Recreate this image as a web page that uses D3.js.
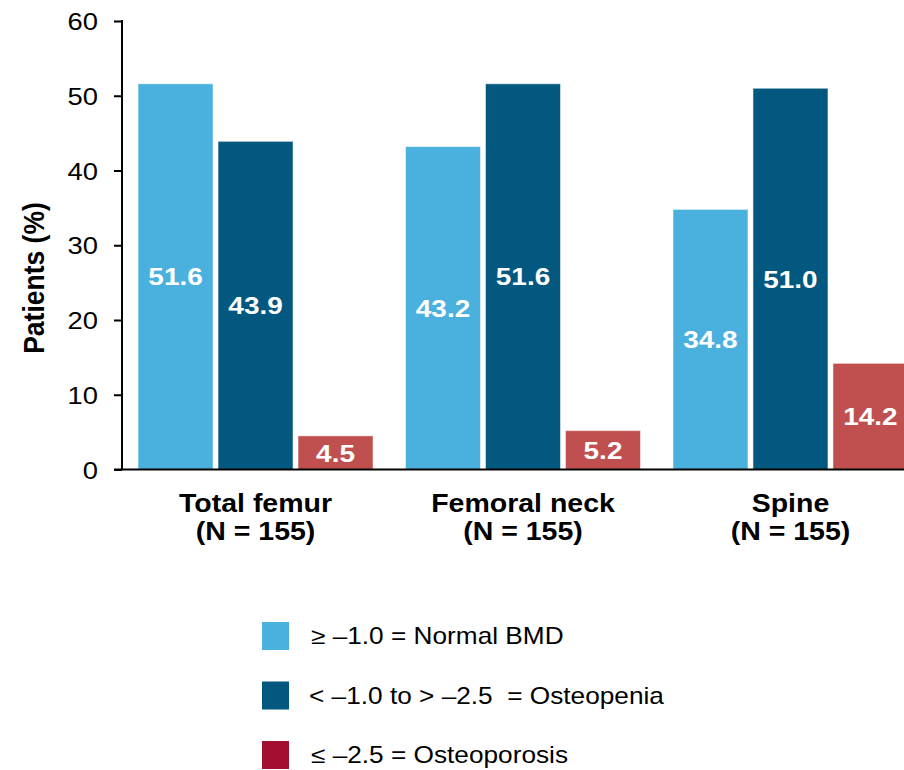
<!DOCTYPE html>
<html>
<head>
<meta charset="utf-8">
<script src="https://cdn.jsdelivr.net/npm/d3@7"></script>
<style>
  html, body { margin: 0; padding: 0; background: #fff; }
  svg { display: block; font-family: "Liberation Sans", Arial, sans-serif; }
  text { white-space: pre; }
</style>
</head>
<body>
<svg id="chart" width="904" height="770"></svg>
<script>
// Bone mineral density categories by measurement site
const sites = ["Total femur", "Femoral neck", "Spine"];
const siteN = ["(N = 155)", "(N = 155)", "(N = 155)"];
const seriesKeys = ["normal", "osteopenia", "osteoporosis"];
const seriesLabels = ["\u2265 \u20131.0 = Normal BMD", "< \u20131.0 to > \u20132.5  = Osteopenia", "\u2264 \u20132.5 = Osteoporosis"];
const normalValues = [51.6, 43.2, 34.8];
const osteopeniaValues = [43.9, 51.6, 51.0];
const osteoporosisValues = [4.5, 5.2, 14.2];
const yTicks = [0, 10, 20, 30, 40, 50, 60];

const barColors = ["#4AB1DF", "#02587F", "#C0504F"];
const legendColors = ["#4AB1DF", "#02587F", "#A30F30"];

const valuesBySeries = [normalValues, osteopeniaValues, osteoporosisValues];
const rows = sites.map((s, i) => ({ site: s, values: seriesKeys.map((k, j) => ({ key: k, idx: j, v: valuesBySeries[j][i] })) }));

const svg = d3.select("#chart");
const SX = 1.14; // horizontal glyph stretch

const axisX = 122, yTop = 21, yBottom = 469.5;

const y = d3.scaleLinear().domain([0, 60]).range([yBottom, yTop]);
const x0 = d3.scaleBand().domain(sites).range([axisX, 924]).paddingInner(0.1215).paddingOuter(0.06);
const x1 = d3.scaleBand().domain(seriesKeys).range([0, x0.bandwidth()]).paddingInner(0.0625).paddingOuter(0);

// Bars
const groups = svg.append("g").selectAll("g").data(rows).join("g")
  .attr("transform", d => `translate(${x0(d.site)},0)`);

groups.selectAll("rect").data(d => d.values).join("rect")
  .attr("x", d => x1(d.key))
  .attr("y", d => y(d.v))
  .attr("width", x1.bandwidth())
  .attr("height", d => y(0) - y(d.v))
  .attr("fill", d => barColors[d.idx])
  .attr("stroke", "#ffffff")
  .attr("stroke-opacity", 0.5)
  .attr("stroke-width", 1);

// Value labels centered in each bar
groups.selectAll("g.lbl").data(d => d.values).join("g")
  .attr("class", "lbl")
  .attr("transform", d => `translate(${x1(d.key) + x1.bandwidth() / 2},${(y(d.v) + y(0)) / 2}) scale(${SX},1)`)
  .append("text")
  .attr("text-anchor", "middle")
  .attr("dy", "0.36em")
  .attr("fill", "#fff")
  .attr("font-weight", "bold")
  .attr("font-size", 24.5)
  .text(d => d.v.toFixed(1));

// Y axis
const yAxis = svg.append("g").attr("transform", `translate(${axisX},0)`)
  .call(d3.axisLeft(y).tickValues(yTicks).tickSize(8).tickPadding(0).tickFormat(d3.format("d")));
yAxis.select(".domain").remove();
yAxis.selectAll(".tick line").attr("stroke", "#000").attr("stroke-width", 2);
yAxis.selectAll(".tick text").remove();
yAxis.selectAll(".tick").append("g")
  .attr("transform", `translate(-24,0) scale(${SX},1)`)
  .append("text")
  .attr("text-anchor", "end")
  .attr("dy", "0.36em")
  .attr("fill", "#000")
  .attr("font-size", 24)
  .text(d => d);

svg.append("line")
  .attr("x1", axisX).attr("x2", axisX)
  .attr("y1", y(60) - 1).attr("y2", y(0))
  .attr("stroke", "#000").attr("stroke-width", 2);

// X axis baseline
svg.append("line")
  .attr("x1", axisX - 8).attr("x2", 904)
  .attr("y1", y(0)).attr("y2", y(0))
  .attr("stroke", "#000").attr("stroke-width", 2);

// Category labels
const cat = svg.append("g").selectAll("g").data(sites).join("g")
  .attr("transform", d => `translate(${x0(d) + x0.bandwidth() / 2},0) scale(${SX},1)`);
cat.append("text")
  .attr("y", 512).attr("text-anchor", "middle")
  .attr("font-weight", "bold").attr("font-size", 25).attr("fill", "#000")
  .text(d => d);
cat.append("text")
  .attr("y", 540).attr("text-anchor", "middle")
  .attr("font-weight", "bold").attr("font-size", 25).attr("fill", "#000")
  .text((d, i) => siteN[i]);

// Y axis title
svg.append("g")
  .attr("transform", `translate(33,278) scale(${SX},1) rotate(-90)`)
  .append("text")
  .attr("text-anchor", "middle")
  .attr("dy", "0.36em")
  .attr("font-weight", "bold")
  .attr("font-size", 26.5)
  .attr("fill", "#000")
  .text("Patients (%)");

// Legend
const legend = svg.append("g").selectAll("g").data(seriesLabels).join("g")
  .attr("transform", (d, i) => `translate(262,${622 + i * 59.5})`);
legend.append("rect")
  .attr("width", 27).attr("height", 28)
  .attr("fill", (d, i) => legendColors[i]);
legend.append("g")
  .attr("transform", (d, i) => `translate(${i === 1 ? 47 : 49},14) scale(${SX},1)`)
  .append("text")
  .attr("dy", "0.36em")
  .attr("font-size", 23)
  .attr("fill", "#000")
  .text(d => d);
</script>
</body>
</html>
